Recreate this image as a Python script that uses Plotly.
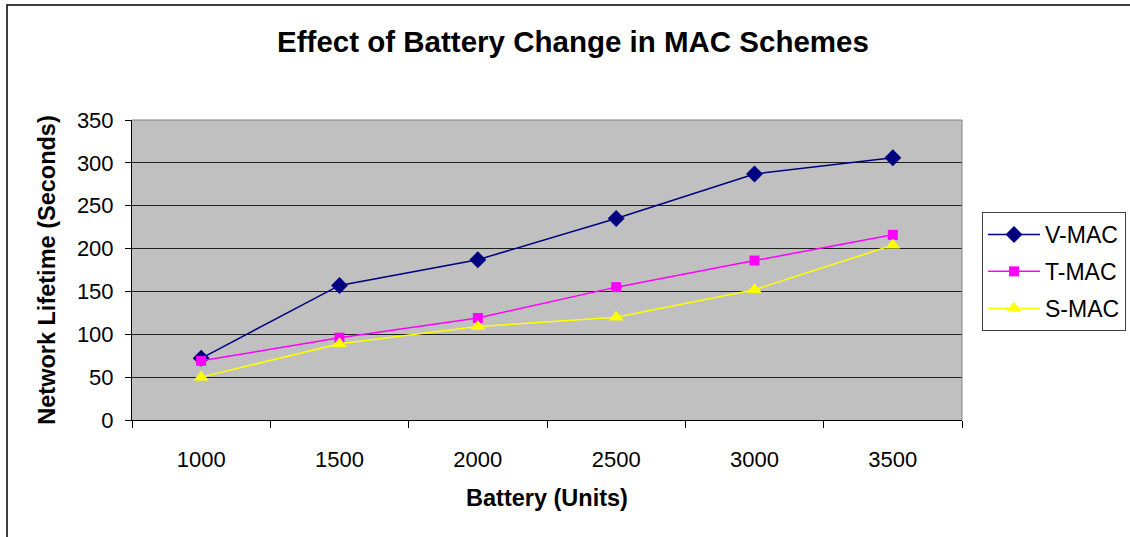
import plotly.graph_objects as go

battery = ["1000", "1500", "2000", "2500", "3000", "3500"]
v_mac = [72, 157, 187, 235, 287, 306]
t_mac = [69, 96, 119, 155, 186, 216]
s_mac = [50, 89, 109, 120, 152, 204]

FONT = "Liberation Sans, Arial, sans-serif"
W, H = 1130, 537
ML, MR, MT, MB = 132, 168, 120, 117
PW, PH = W - ML - MR, H - MT - MB

def px_x(p):
    return (p - ML) / PW

def px_y(p):
    return (H - MB - p) / PH

fig = go.Figure()
series = [
    ("V-MAC", v_mac, "#000080", "diamond", 13),
    ("T-MAC", t_mac, "#FF00FF", "square", 10),
    ("S-MAC", s_mac, "#FFFF00", "triangle-up", 13),
]
for name, vals, col, sym, sz in series:
    fig.add_trace(go.Scatter(
        x=battery, y=vals, name=name, mode="lines+markers",
        legendgroup=name,
        line=dict(color=col, width=1.5),
        marker=dict(symbol=sym, size=sz, color=col, line=dict(width=0)),
    ))

fig.update_layout(
    width=W, height=H,
    margin=dict(l=ML, r=MR, t=MT, b=MB, autoexpand=False),
    paper_bgcolor="white",
    plot_bgcolor="#C0C0C0",
    font=dict(family=FONT, size=22, color="black"),
    title=dict(
        text="<b>Effect of Battery Change in MAC Schemes</b>",
        font=dict(family=FONT, size=29.5, color="black"),
        xref="paper", x=px_x(573), xanchor="center",
        yref="container", y=1 - 42 / H, yanchor="middle",
    ),
    legend=dict(
        x=px_x(982), y=px_y(212), xanchor="left", yanchor="top",
        bgcolor="white", bordercolor="#404040", borderwidth=1,
        font=dict(family=FONT, size=23, color="black"),
        itemwidth=52, tracegroupgap=4,
    ),
    showlegend=True,
)

fig.update_xaxes(
    type="category",
    range=[-0.5, 5.5],
    tickson="boundaries",
    ticks="outside", ticklen=7, tickcolor="black",
    showline=True, linecolor="black", linewidth=1,
    mirror=False,
    showgrid=False,
    tickfont=dict(family=FONT, size=22, color="black"),
    ticklabelstandoff=20,
    title=dict(text="<b>Battery (Units)</b>", font=dict(family=FONT, size=23.5), standoff=18),
)
fig.update_yaxes(
    range=[0, 350], dtick=50,
    ticks="outside", ticklen=6, tickcolor="black",
    showline=True, linecolor="black", linewidth=1,
    showgrid=True, gridcolor="#202020", gridwidth=1,
    zeroline=False,
    tickfont=dict(family=FONT, size=22, color="black"),
    ticklabelstandoff=7,
    title=dict(text="<b>Network Lifetime (Seconds)</b>", font=dict(family=FONT, size=23.5), standoff=14),
)

# plot area border (top/right gray)
fig.add_shape(type="line", xref="paper", yref="paper", x0=0, x1=1, y0=1, y1=1,
              line=dict(color="#808080", width=1))
fig.add_shape(type="line", xref="paper", yref="paper", x0=1, x1=1, y0=0, y1=1,
              line=dict(color="#808080", width=1))
# outer chart frame
fig.add_shape(type="rect", xref="paper", yref="paper",
              x0=px_x(7), x1=px_x(1140), y0=px_y(5), y1=px_y(545),
              line=dict(color="black", width=1.5), fillcolor="rgba(0,0,0,0)", layer="below")

fig.write_html("out.html", config={"displayModeBar": False},
               post_script="document.body.style.margin='0px';")
